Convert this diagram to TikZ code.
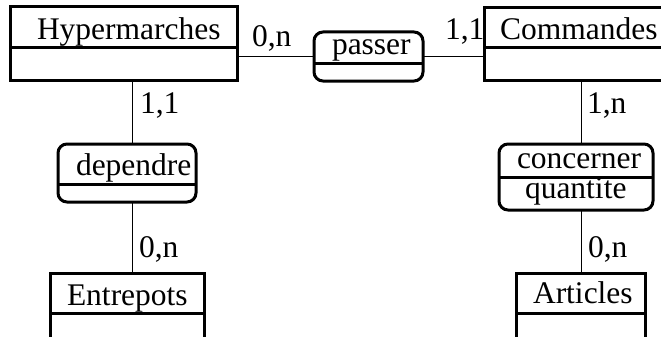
\documentclass[tikz,border=0pt]{standalone}
\usepackage{fontspec}
\setmainfont{Liberation Serif}
\begin{document}
\begin{tikzpicture}[x=1pt,y=-1pt,
  box/.style={draw,line width=3pt,inner sep=0pt,outer sep=0pt},
  ent/.style={box},
  rel/.style={box,rounded corners=9pt},
  div/.style={line width=3pt},
  conn/.style={line width=0.9pt},
  txt/.style={inner sep=0pt,outer sep=0pt,anchor=base west,font=\fontsize{31.5}{36}\selectfont},
]
\useasboundingbox (0,0) rectangle (661,337);
\clip (0,0) rectangle (661,337);
% entities
\node[ent,minimum width=227pt,minimum height=73pt] (hyp) at (123.5,43.5) {};
\draw[div] ([yshift=-41pt]hyp.north west) -- ([yshift=-41pt]hyp.north east);
\node[txt] (thyp) at (37,40) {Hypermarches};

\node[ent,minimum width=188pt,minimum height=72pt] (com) at (578,44) {};
\draw[div] ([yshift=-40pt]com.north west) -- ([yshift=-40pt]com.north east);
\node[txt] (tcom) at (500,40) {Commandes};

\node[ent,minimum width=154pt,minimum height=80pt] (ent) at (127,313) {};
\draw[div] ([yshift=-40pt]ent.north west) -- ([yshift=-40pt]ent.north east);
\node[txt] (tent) at (67,305) {Entrepots};

\node[ent,minimum width=129pt,minimum height=80pt] (art) at (580.5,313) {};
\draw[div] ([yshift=-40pt]art.north west) -- ([yshift=-40pt]art.north east);
\node[txt] (tart) at (533,303) {Articles};

% relationships
\node[rel,minimum width=109pt,minimum height=49pt] (pas) at (368.5,56.5) {};
\draw[div] ([yshift=-32pt]pas.north west) -- ([yshift=-32pt]pas.north east);
\node[txt] (tpas) at (332,55) {passer};

\node[rel,minimum width=138pt,minimum height=58pt] (dep) at (127,173) {};
\draw[div] ([yshift=-40pt]dep.north west) -- ([yshift=-40pt]dep.north east);
\node[txt] (tdep) at (76,175) {dependre};

\node[rel,minimum width=154pt,minimum height=66pt] (con) at (576,177) {};
\draw[div] ([yshift=-33pt]con.north west) -- ([yshift=-33pt]con.north east);
\node[txt] (tcon) at (517,168) {concerner};
\node[txt] (tqua) at (525,198) {quantite};

% connectors
\coordinate (lx) at (132,0);
\coordinate (rx) at (581,0);
\draw[conn] (pas.west) -- (pas.west -| hyp.east);
\draw[conn] (pas.east) -- (pas.east -| com.west);
\draw[conn] (hyp.south -| lx) -- (dep.north -| lx);
\draw[conn] (dep.south -| lx) -- (ent.north -| lx);
\draw[conn] (com.south -| rx) -- (con.north -| rx);
\draw[conn] (con.south -| rx) -- (art.north -| rx);

% cardinalities
\node[txt] (c1) at (252,47) {0,n};
\node[txt] (c2) at (445,40) {1,1};
\node[txt] (c3) at (140,113) {1,1};
\node[txt] (c4) at (139,257) {0,n};
\node[txt] (c5) at (587,113) {1,n};
\node[txt] (c6) at (588,257) {0,n};
\end{tikzpicture}
\end{document}
